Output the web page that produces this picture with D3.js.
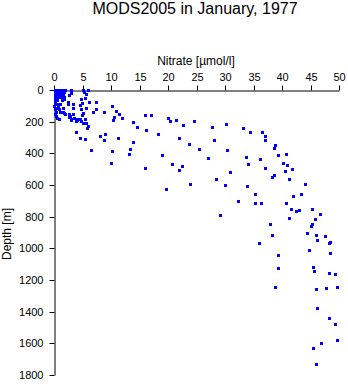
<!DOCTYPE html>
<html>
<head>
<meta charset="utf-8">
<script src="https://cdn.jsdelivr.net/npm/d3@7"></script>
<style>
  html, body { margin: 0; padding: 0; background: #fff; }
  svg { display: block; font-family: "Liberation Sans", Arial, Helvetica, sans-serif; }
</style>
</head>
<body>
<svg id="chart" width="348" height="384"></svg>
<script>
// Nitrate profile samples: concentration [µmol/l] and sample depth [m]
const nitrate = [
  0.1, 0.4, 0.8, 1.2, 1.6, 2.0, 2.9, 5.0, 5.9,
  0.1, 0.7, 1.3, 1.7, 3.0, 5.3,
  0.1, 0.5, 1.0, 1.5, 2.6, 5.6,
  0.1, 0.7, 1.3, 1.7,
  1.7, 4.8, 5.4,
  0.1, 0.5, 1.4,
  0.1, 2.5, 6.1, 4.9, 7.3,
  0.2, 0.6, 1.0, 3.3, 2.5,
  0.0, 0.7, 4.5,
  0.1, 0.7, 1.5, 3.3, 4.8, 5.6,
  0.1, 0.9, 7.4,
  0.3, 1.1, 1.6, 5.1, 6.8, 8.8, 1.8,
  0.1, 1.9, 2.6, 3.3,
  0.4, 2.8, 4.9,
  0.5, 2.6, 3.5, 4.4,
  0.9, 2.9, 3.0, 3.8, 4.0, 4.5, 5.4,
  3.9, 4.8, 5.1, 5.7,
  5.9, 5.8, 3.9, 4.6, 5.5,
  10.2, 10.9, 11.4, 10.5, 10.4, 12.0, 13.9, 14.6, 15.9, 16.1,
  8.0, 9.0, 8.8, 11.2, 13.9, 6.5, 10.2, 13.3, 13.2, 10.0, 16.0,
  17.1, 20.0, 20.4, 21.4, 22.7, 24.6, 27.8, 30.2, 33.2, 34.4,
  36.5, 37.1, 37.1, 38.8, 38.6, 18.3, 22.0, 23.7, 28.1, 25.4,
  30.3, 19.0, 27.1, 33.7, 36.2, 39.3, 40.7, 20.7, 22.4, 22.0,
  34.1, 37.1, 40.2, 40.9, 41.7, 40.6, 30.9, 28.5, 38.6, 38.3,
  41.2, 23.9, 30.0, 33.8, 44.0, 19.7, 35.2, 42.0, 43.3, 32.2,
  35.3, 36.4, 40.7, 41.6, 42.5, 43.0, 45.2, 46.7, 29.2, 41.2,
  45.8, 37.9, 45.3, 45.1, 44.3, 38.3, 46.0, 47.5, 46.1, 48.2,
  48.5, 35.9, 44.8, 48.4, 39.3, 39.3, 45.4, 45.7, 48.3, 49.3,
  38.8, 45.9, 47.7, 49.7,
  46.1, 48.3, 49.3, 49.6, 46.8, 45.4, 46.0
];
const depth = [
  2, 2, 2, 2, 2, 2, 2, 2, 2,
  14, 14, 14, 14, 16, 14,
  30, 30, 30, 30, 30, 24,
  46, 46, 46, 46,
  56, 56, 49,
  66, 66, 66,
  77, 77, 75, 81, 77,
  87, 87, 87, 87, 90,
  103, 103, 96,
  115, 115, 115, 113, 119, 115,
  123, 123, 123,
  136, 136, 136, 144, 138, 136, 144,
  151, 151, 151, 153,
  162, 162, 161,
  175, 170, 178, 182,
  185, 183, 187, 183, 187, 183, 183,
  195, 195, 208, 208,
  229, 239, 265, 301, 309,
  104, 134, 153, 172, 187, 178, 204, 231, 157, 254,
  288, 277, 315, 301, 328, 381, 385, 372, 404, 459, 492,
  161, 174, 197, 191, 220, 195, 233, 214, 239, 265,
  265, 290, 318, 347, 366, 275, 305, 339, 315, 372,
  378, 410, 429, 423, 435, 410, 404, 465, 480, 505,
  467, 492, 461, 473, 499, 511, 520, 562, 535, 549,
  562, 594, 598, 606, 594, 625, 657, 670, 657, 701,
  716, 714, 714, 754, 765, 758, 752, 780, 790, 809,
  815, 847, 849, 856, 904, 913, 916, 923, 948, 967,
  961, 967, 1009, 1030, 1043, 1122, 1119, 1141, 1157, 1163,
  1246, 1258, 1252, 1246,
  1377, 1440, 1480, 1581, 1600, 1632, 1733
];
const nitrateTicks = d3.range(0, 51, 5);
const depthTicks = d3.range(0, 1801, 200);

const title = "MODS2005 in January, 1977";
const xLabel = "Nitrate [\u00b5mol/l]";
const yLabel = "Depth [m]";

const svg = d3.select("#chart");

const x = d3.scaleLinear().domain([0, 50]).range([54, 339]);
const y = d3.scaleLinear().domain([0, 1800]).range([90, 375]);

// title and axis labels
svg.append("text")
  .attr("x", 195).attr("y", 14)
  .attr("text-anchor", "middle")
  .attr("font-size", 16)
  .text(title);

svg.append("text")
  .attr("x", 196).attr("y", 65)
  .attr("text-anchor", "middle")
  .attr("font-size", 12)
  .text(xLabel);

svg.append("text")
  .attr("transform", "translate(11,234) rotate(-90)")
  .attr("text-anchor", "middle")
  .attr("font-size", 12)
  .text(yLabel);

// top x axis
const gx = svg.append("g")
  .call(d3.axisTop(x).tickValues(nitrateTicks).tickFormat(d3.format("d"))
    .tickSize(5).tickSizeOuter(0).tickPadding(5));

// left y axis
const gy = svg.append("g")
  .call(d3.axisLeft(y).tickValues(depthTicks).tickFormat(d3.format("d"))
    .tickSize(5).tickSizeOuter(0).tickPadding(6));

[gx, gy].forEach(g => {
  g.selectAll("text").attr("font-size", 11).attr("fill", "#000")
    .attr("font-family", "'Liberation Sans', Arial, Helvetica, sans-serif");
  g.selectAll("path, line").attr("stroke", "#000");
});
gx.attr("transform", "translate(0,90.5)");
gx.selectAll(".tick").attr("transform", d => `translate(${Math.round(x(d)) + 0.5},0)`);
gy.attr("transform", "translate(54.5,0)");
gy.selectAll(".tick").attr("transform", d => `translate(0,${Math.round(y(d)) + 0.5})`);

// sample markers
svg.append("g")
  .attr("fill", "#0000ff")
  .attr("shape-rendering", "crispEdges")
  .selectAll("rect")
  .data(d3.range(nitrate.length))
  .join("rect")
  .attr("x", i => Math.round(x(nitrate[i])) - 1)
  .attr("y", i => Math.round(y(depth[i])) - 1)
  .attr("width", 3)
  .attr("height", 3);
</script>
</body>
</html>
